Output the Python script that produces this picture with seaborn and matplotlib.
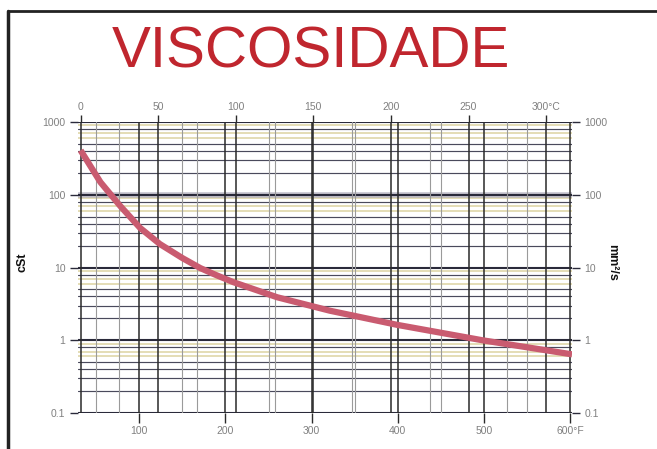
import numpy as np
import pandas as pd
import matplotlib
matplotlib.use("Agg")
import matplotlib.pyplot as plt
import seaborn as sns

# Data (temperature in °F, viscosity in cSt)
temp_F = [32, 55, 78, 101, 124, 150, 171, 190, 209, 260, 321, 399, 498, 602]
visc_cSt = [408, 149, 70, 35, 21, 13.5, 9.8, 7.8, 6.3, 3.9, 2.55, 1.63, 1.0, 0.64]

ticks_F = [100, 200, 300, 400, 500, 600]
tick_labels_F = ["100", "200", "300", "400", "500", "600°F"]
ticks_C = [0, 50, 100, 150, 200, 250, 300]
tick_labels_C = ["0", "50", "100", "150", "200", "250", "300°C"]
ticks_y = [0.1, 1, 10, 100, 1000]
tick_labels_y = ["0.1", "1", "10", "100", "1000"]

title = "VISCOSIDADE"
ylabel_left = "cSt"
ylabel_right = "mm²/s"

sns.set_style("white")
plt.rcParams["font.family"] = ["Liberation Sans", "DejaVu Sans"]

fig = plt.figure(figsize=(6.57, 4.49), dpi=100)
ax = fig.add_axes([78 / 657, (449 - 413) / 449, 494 / 657, 291 / 449])

def f2c(f):
    return (np.asarray(f) - 32) * 5 / 9

def c2f(c):
    return np.asarray(c) * 9 / 5 + 32

ax.set_yscale("log")
ax.set_xlim(29, 602)
ax.set_ylim(0.1, 1000)

# Horizontal grid: decades dark, minors mixed dark / tan
dark_minor = (2, 3, 4, 5, 8)
for e in range(-1, 3):
    for m in range(2, 10):
        v = m * 10.0 ** e
        if m in dark_minor:
            ax.axhline(v, color="#4a4a5c", lw=0.85, zorder=1)
        else:
            ax.axhline(v, color="#ddd3a2", lw=1.1, zorder=1)
for v in ticks_y:
    ax.axhline(v, color="#2a2a3a", lw=1.5, zorder=1.5)
ax.axhline(100, color="#a8a6b6", lw=4, alpha=0.7, zorder=1.2)

# Vertical grid: °F and °C
for f in range(50, 601, 50):
    if f % 100 == 0:
        ax.axvline(f, color="#2a2a2a", lw=1.1, zorder=1.6)
    else:
        ax.axvline(f, color="#9a9a9a", lw=0.8, zorder=1.6)
for c in range(0, 301, 25):
    if c % 50 == 0:
        ax.axvline(c2f(c), color="#2a2a2a", lw=1.1, zorder=1.6)
    else:
        ax.axvline(c2f(c), color="#9a9a9a", lw=0.8, zorder=1.6)

df = pd.DataFrame({"F": temp_F, "cSt": visc_cSt})
sns.lineplot(data=df, x="F", y="cSt", ax=ax, color="#c95b70", lw=4.5,
             zorder=5, solid_capstyle="butt")

ax.set_xlabel("")
ax.set_ylabel("")
for s in ax.spines.values():
    s.set_visible(False)

tick_col = "#808080"
ax.set_xticks(ticks_F)
ax.set_xticklabels(tick_labels_F, color=tick_col, fontsize=7.5)
ax.set_yticks(ticks_y)
ax.set_yticklabels(tick_labels_y, color=tick_col, fontsize=7.5)
ax.minorticks_off()
ax.tick_params(axis="x", which="major", direction="out", length=7, width=1,
               color="#2a2a2a", pad=2, bottom=True)
ax.tick_params(axis="y", which="major", direction="out", length=6, width=1,
               color="#2a2a3a", pad=3, left=True, right=True,
               labelright=True)
ax.yaxis.set_minor_locator(matplotlib.ticker.NullLocator())

secx = ax.secondary_xaxis("top", functions=(f2c, c2f))
secx.set_xticks(ticks_C)
secx.set_xticklabels(tick_labels_C, color=tick_col, fontsize=7.5)
secx.tick_params(direction="out", length=5, width=1, color="#2a2a2a", pad=2)
secx.xaxis.set_minor_locator(matplotlib.ticker.NullLocator())
for s in secx.spines.values():
    s.set_visible(False)

fig.text(22 / 657, 1 - 262 / 449, ylabel_left, rotation=90, ha="center",
         va="center", fontsize=9, fontweight="bold", color="#111111")
fig.text(612 / 657, 1 - 262 / 449, ylabel_right, rotation=270, ha="center",
         va="center", fontsize=9, fontweight="bold", color="#111111")

fig.text(311 / 657, 1 - 53 / 449, title, ha="center", va="center",
         fontsize=42, color="#c0262e")

# frame lines (top and left)
fig.add_artist(plt.Line2D([8 / 657, 1], [1 - 11 / 449, 1 - 11 / 449],
                          transform=fig.transFigure, color="#222222", lw=2))
fig.add_artist(plt.Line2D([8 / 657, 8 / 657], [0, 1 - 11 / 449],
                          transform=fig.transFigure, color="#222222", lw=2.5))

fig.savefig("out.png", dpi=100)
